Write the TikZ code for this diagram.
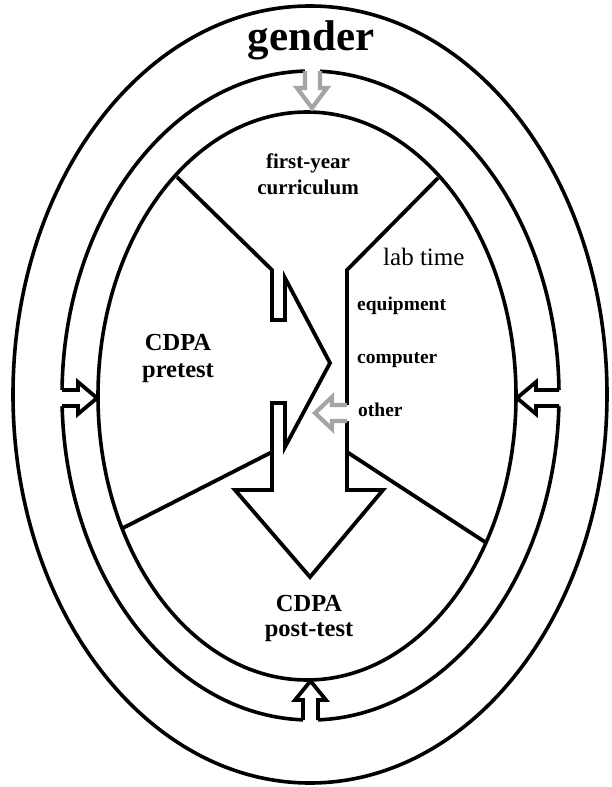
\documentclass[tikz,border=0pt]{standalone}
\usepackage{fontspec}
\setmainfont{Liberation Serif}
\usepackage{tikz}
\definecolor{arrowgray}{RGB}{165,165,165}
\tikzset{
  ring/.style={line width=3.6pt},
  wall/.style={line width=3.8pt, line join=miter},
  grayblock/.style={line width=4.2pt, color=arrowgray, line join=miter},
  blackblock/.style={line width=3.8pt, line join=miter},
  txt/.style={inner sep=0pt, anchor=base}
}

\begin{document}
\begin{tikzpicture}[x=1pt, y=-1pt]
\useasboundingbox (0, 0) rectangle (611, 787);
\draw[ring] (310, 394.5) ellipse [x radius=297pt, y radius=388.5pt];
\draw[ring] (310.5, 395.5) ellipse [x radius=248.5pt, y radius=324.5pt];
\fill[white] (305, 63) -- (305, 88) -- (297, 88) -- (312, 108) -- (327, 88) -- (320, 88) -- (320, 63) -- cycle;
\fill[white] (54, 390) -- (78, 390) -- (78, 382) -- (97, 398) -- (78, 414) -- (78, 406) -- (54, 406) -- cycle;
\fill[white] (567, 390) -- (536, 390) -- (536, 382) -- (517, 398) -- (536, 414) -- (536, 406) -- (567, 406) -- cycle;
\fill[white] (303, 728) -- (303, 700) -- (295, 700) -- (310.5, 681) -- (326, 700) -- (318, 700) -- (318, 728) -- cycle;
\draw[ring] (307, 396) ellipse [x radius=209pt, y radius=284pt];
\draw[wall] (177, 177) -- (272, 270) -- (272, 320) -- (285, 320) -- (285, 278)
  -- (330, 363) -- (285, 447) -- (285, 403) -- (272, 403) -- (272, 490)
  -- (235, 490) -- (310, 577) -- (383, 490) -- (347, 490) -- (347, 270) -- (438, 178);
\draw[wall] (272, 452) -- (123, 528);
\draw[wall] (347, 452) -- (485, 542);
\fill[white] (354, 405) -- (332, 405) -- (332, 397) -- (315, 413) -- (332, 429) -- (332, 421) -- (354, 421) -- cycle;
\draw[grayblock] (305, 71) -- (305, 88) -- (297, 88) -- (312, 108) -- (327, 88) -- (320, 88) -- (320, 71);
\draw[grayblock] (347, 405) -- (332, 405) -- (332, 397) -- (315, 413) -- (332, 429) -- (332, 421) -- (347, 421);
\draw[blackblock] (62, 390) -- (78, 390) -- (78, 382) -- (97, 398) -- (78, 414) -- (78, 406) -- (62, 406);
\draw[blackblock] (559, 390) -- (536, 390) -- (536, 382) -- (517, 398) -- (536, 414) -- (536, 406) -- (559, 406);
\draw[blackblock] (303, 720) -- (303, 700) -- (295, 700) -- (310.5, 681) -- (326, 700) -- (318, 700) -- (318, 720);
\node (gender) at (311, 50) [txt, font=\fontsize{43}{43}\selectfont\bfseries] {gender};
\node (curric) at (308, 194) [txt, align=center, font=\fontsize{21}{26}\selectfont\bfseries] {first-year\\curriculum};
\node (labtime) at (383, 265) [txt, anchor=base west, font=\fontsize{25}{25}\selectfont] {lab time};
\node (equip) at (357, 310) [txt, anchor=base west, font=\fontsize{19.5}{20}\selectfont\bfseries] {equipment};
\node (comp) at (357, 363) [txt, anchor=base west, font=\fontsize{19.5}{20}\selectfont\bfseries] {computer};
\node (other) at (358, 416) [txt, anchor=base west, font=\fontsize{19.5}{20}\selectfont\bfseries] {other};
\node (pretest) at (178, 377) [txt, align=center, font=\fontsize{24.5}{27}\selectfont\bfseries] {CDPA\\pretest};
\node (posttest) at (309, 636) [txt, align=center, font=\fontsize{24.5}{25}\selectfont\bfseries] {CDPA\\post-test};
%\draw[very thin, red] (0, 0) grid[step=50] (611, 787);
\end{tikzpicture}
\end{document}
